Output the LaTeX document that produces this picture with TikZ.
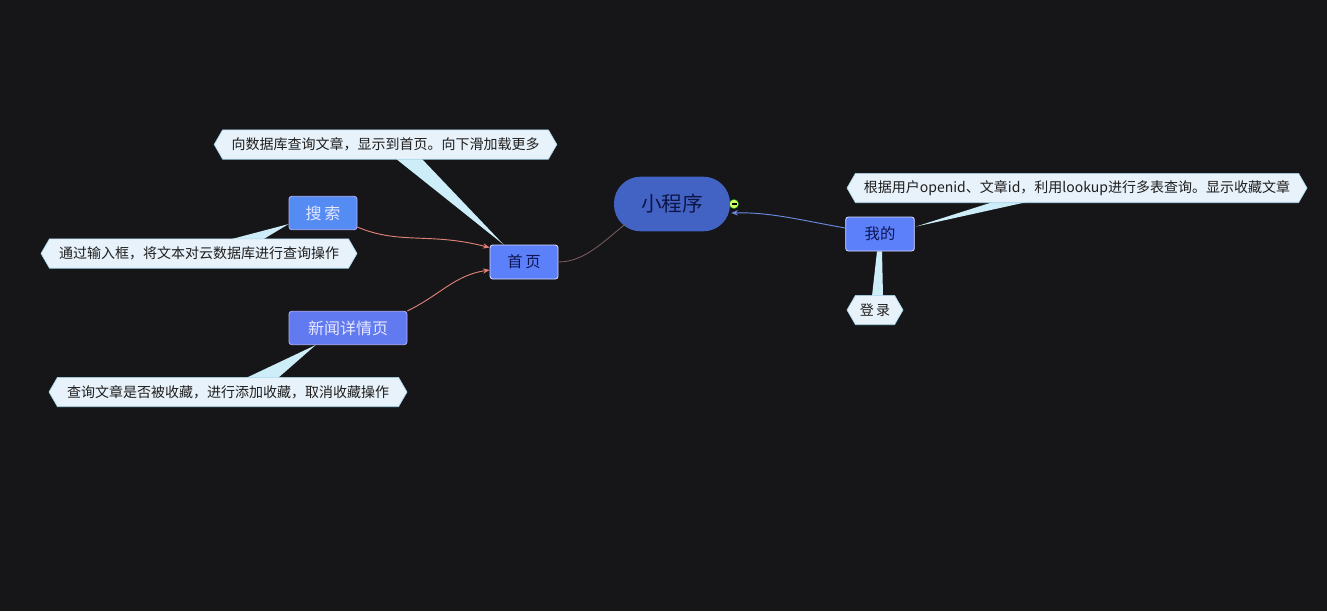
\documentclass[tikz,border=0pt]{standalone}
\usepackage{fontspec}
\newfontfamily\cjk{Noto Sans CJK SC}
\usetikzlibrary{shapes.symbols,calc,arrows.meta}
\definecolor{bg}{RGB}{22,22,24}
\definecolor{rootc}{RGB}{66,98,196}
\definecolor{roott}{RGB}{14,22,70}
\definecolor{topc}{RGB}{92,128,250}
\definecolor{topt}{RGB}{12,20,80}
\definecolor{searchc}{RGB}{84,140,244}
\definecolor{newsc}{RGB}{98,122,240}
\definecolor{lightt}{RGB}{230,232,255}
\definecolor{calloutc}{RGB}{232,242,250}
\definecolor{callbd}{RGB}{165,215,235}
\definecolor{tailc}{RGB}{205,238,248}
\definecolor{calltext}{RGB}{30,30,30}
\definecolor{pinkc}{RGB}{222,128,118}
\definecolor{bluec}{RGB}{108,138,228}
\definecolor{brownc}{RGB}{125,96,96}
\tikzset{
  topicbox/.style={rectangle, rounded corners=2pt, draw=white!85!blue, line width=0.6pt,
    fill=topc, text=topt, font=\cjk\fontsize{11.5}{13}\selectfont, inner sep=0pt},
  callbox/.style={signal, signal to=west and east, signal pointer angle=120,
    fill=calloutc, draw=callbd, line width=0.5pt, text=calltext, inner sep=0pt,
    minimum height=22pt, font=\cjk\fontsize{10.5}{12}\selectfont},
  tailfill/.style={fill=tailc},
  linkarrow/.style={-{Stealth[length=5pt,width=4pt]}, line width=0.7pt},
}
\begin{document}
\begin{tikzpicture}[x=0.75pt,y=-0.75pt]
\fill[bg] (0,0) rectangle (1327,611);
\useasboundingbox (0,0) rectangle (1327,611);

% callout tail bases
\coordinate (t1a) at (395,158);
\coordinate (t1b) at (421,158);
\coordinate (t2a) at (228,240);
\coordinate (t2b) at (262,240);
\coordinate (t3a) at (246,378);
\coordinate (t3b) at (278,378);
\coordinate (t4a) at (993,202);
\coordinate (t4b) at (1027,202);
\coordinate (t5a) at (872,296);
\coordinate (t5b) at (883,296);

% nodes
\node[rectangle, rounded corners=20pt, fill=rootc, text=roott, minimum width=87pt, minimum height=41pt,
  font=\cjk\fontsize{15.5}{18}\selectfont, inner sep=0pt] (root) at (672,204) {小程序};
\node[topicbox, minimum width=51pt, minimum height=25.5pt] (home) at (524,262) {首\,页};
\node[topicbox, minimum width=51.5pt, minimum height=25.5pt] (mine) at (880,234) {我的};
\node[topicbox, fill=searchc, text=lightt, draw=white!70!blue, minimum width=51pt, minimum height=25pt,
  font=\cjk\fontsize{12}{14}\selectfont] (search) at (323,213) {搜\,索};
\node[topicbox, fill=newsc, text=lightt, draw=white!70!blue, minimum width=88.5pt, minimum height=25pt,
  font=\cjk\fontsize{12}{14}\selectfont] (news) at (348,328) {新闻详情页};

\fill[tailfill] (t1a) -- (t1b) -- ($(home.north west)+(14,0)$) -- cycle;
\fill[tailfill] (t2a) -- (t2b) -- ($(search.south west)+(0,-6)$) -- cycle;
\fill[tailfill] (t3a) -- (t3b) -- ($(news.south west)+(27,0)$) -- cycle;
\fill[tailfill] (t4a) -- (t4b) -- ($(mine.north east)+(1,10)$) -- cycle;
\fill[tailfill] (t5a) -- (t5b) -- ($(mine.south)+(2,0)$) -- ($(mine.south)+(-3,0)$) -- cycle;

\node[callbox, minimum width=257pt] (c1) at (385.5,144.5) {向数据库查询文章，显示到首页。向下滑加载更多};
\node[callbox, minimum width=237pt] (c2) at (199,253.5) {通过输入框，将文本对云数据库进行查询操作};
\node[callbox, minimum width=268.5pt] (c3) at (228,392) {查询文章是否被收藏，进行添加收藏，取消收藏操作};
\node[callbox, minimum width=345pt] (c4) at (1077,188) {根据用户openid、文章id，利用lookup进行多表查询。显示收藏文章};
\node[callbox, minimum width=42pt] (c5) at (875,310) {登\,录};

% connectors
\draw[brownc, line width=0.6pt] (home.east) .. controls (585,262) and (605,240) .. ($(root.south west)+(11,-7)$);
\draw[pinkc, linkarrow] ($(search.south east)+(0,-3)$) .. controls (400,245) and (430,232) .. ($(home.north west)+(0,3)$);
\draw[pinkc, linkarrow] (news.north east) .. controls (440,295) and (455,275) .. ($(home.west)+(0,8)$);
\draw[bluec, linkarrow] ($(mine.west)+(0,-6)$) .. controls (800,220) and (770,212) .. ($(root.east)+(1,9)$);

% collapse marker
\node[circle, fill=green!30!yellow!60!white, draw=green!50!black, line width=0.3pt, minimum size=7pt, inner sep=0pt] (minus) at (734,204) {};
\draw[black, line width=0.8pt] ($(minus.center)+(-2.5,0)$) -- ($(minus.center)+(2.5,0)$);
\end{tikzpicture}
\end{document}
